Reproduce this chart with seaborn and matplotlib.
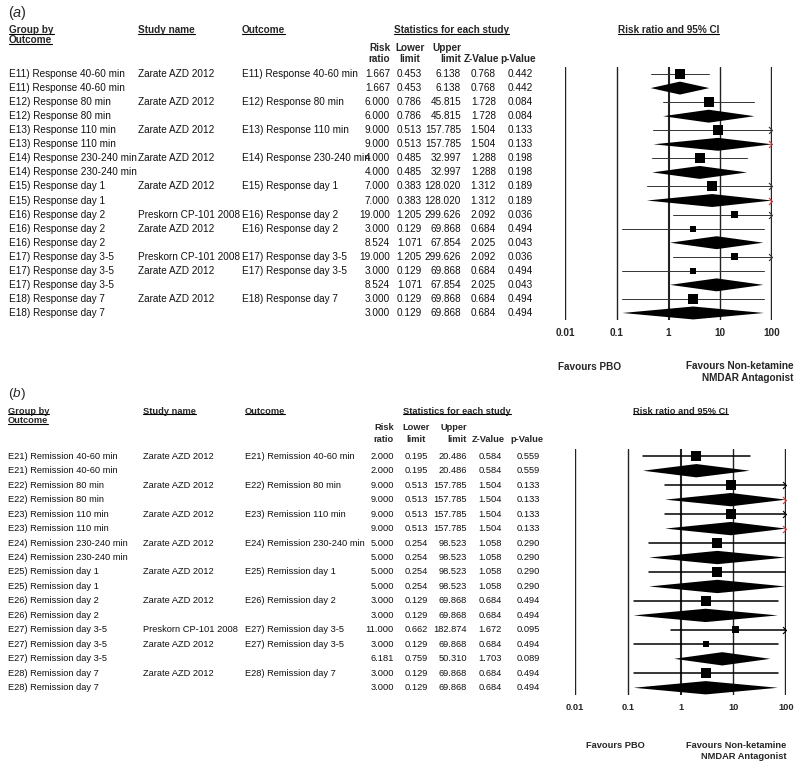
import numpy as np
import matplotlib
matplotlib.use("Agg")
import matplotlib.pyplot as plt
import matplotlib.transforms as mtransforms
from matplotlib.path import Path
import seaborn as sns

# ---- data: panel (a) response ----
a_group = ["E11) Response 40-60 min", "E11) Response 40-60 min",
           "E12) Response 80 min", "E12) Response 80 min",
           "E13) Response 110 min", "E13) Response 110 min",
           "E14) Response 230-240 min", "E14) Response 230-240 min",
           "E15) Response day 1", "E15) Response day 1",
           "E16) Response day 2", "E16) Response day 2", "E16) Response day 2",
           "E17) Response day 3-5", "E17) Response day 3-5", "E17) Response day 3-5",
           "E18) Response day 7", "E18) Response day 7"]
a_study = ["Zarate AZD 2012", "", "Zarate AZD 2012", "", "Zarate AZD 2012", "",
           "Zarate AZD 2012", "", "Zarate AZD 2012", "",
           "Preskorn CP-101 2008", "Zarate AZD 2012", "",
           "Preskorn CP-101 2008", "Zarate AZD 2012", "",
           "Zarate AZD 2012", ""]
a_outcome = ["E11) Response 40-60 min", "", "E12) Response 80 min", "",
             "E13) Response 110 min", "", "E14) Response 230-240 min", "",
             "E15) Response day 1", "",
             "E16) Response day 2", "E16) Response day 2", "",
             "E17) Response day 3-5", "E17) Response day 3-5", "",
             "E18) Response day 7", ""]
a_rr = [1.667, 1.667, 6.000, 6.000, 9.000, 9.000, 4.000, 4.000, 7.000, 7.000,
        19.000, 3.000, 8.524, 19.000, 3.000, 8.524, 3.000, 3.000]
a_lo = [0.453, 0.453, 0.786, 0.786, 0.513, 0.513, 0.485, 0.485, 0.383, 0.383,
        1.205, 0.129, 1.071, 1.205, 0.129, 1.071, 0.129, 0.129]
a_hi = [6.138, 6.138, 45.815, 45.815, 157.785, 157.785, 32.997, 32.997, 128.020, 128.020,
        299.626, 69.868, 67.854, 299.626, 69.868, 67.854, 69.868, 69.868]
a_z = [0.768, 0.768, 1.728, 1.728, 1.504, 1.504, 1.288, 1.288, 1.312, 1.312,
       2.092, 0.684, 2.025, 2.092, 0.684, 2.025, 0.684, 0.684]
a_p = [0.442, 0.442, 0.084, 0.084, 0.133, 0.133, 0.198, 0.198, 0.189, 0.189,
       0.036, 0.494, 0.043, 0.036, 0.494, 0.043, 0.494, 0.494]

# ---- data: panel (b) remission ----
b_group = ["E21) Remission 40-60 min", "E21) Remission 40-60 min",
           "E22) Remission 80 min", "E22) Remission 80 min",
           "E23) Remission 110 min", "E23) Remission 110 min",
           "E24) Remission 230-240 min", "E24) Remission 230-240 min",
           "E25) Remission day 1", "E25) Remission day 1",
           "E26) Remission day 2", "E26) Remission day 2",
           "E27) Remission day 3-5", "E27) Remission day 3-5", "E27) Remission day 3-5",
           "E28) Remission day 7", "E28) Remission day 7"]
b_study = ["Zarate AZD 2012", "", "Zarate AZD 2012", "", "Zarate AZD 2012", "",
           "Zarate AZD 2012", "", "Zarate AZD 2012", "", "Zarate AZD 2012", "",
           "Preskorn CP-101 2008", "Zarate AZD 2012", "",
           "Zarate AZD 2012", ""]
b_outcome = ["E21) Remission 40-60 min", "", "E22) Remission 80 min", "",
             "E23) Remission 110 min", "", "E24) Remission 230-240 min", "",
             "E25) Remission day 1", "", "E26) Remission day 2", "",
             "E27) Remission day 3-5", "E27) Remission day 3-5", "",
             "E28) Remission day 7", ""]
b_rr = [2.000, 2.000, 9.000, 9.000, 9.000, 9.000, 5.000, 5.000, 5.000, 5.000,
        3.000, 3.000, 11.000, 3.000, 6.181, 3.000, 3.000]
b_lo = [0.195, 0.195, 0.513, 0.513, 0.513, 0.513, 0.254, 0.254, 0.254, 0.254,
        0.129, 0.129, 0.662, 0.129, 0.759, 0.129, 0.129]
b_hi = [20.486, 20.486, 157.785, 157.785, 157.785, 157.785, 98.523, 98.523, 98.523, 98.523,
        69.868, 69.868, 182.874, 69.868, 50.310, 69.868, 69.868]
b_z = [0.584, 0.584, 1.504, 1.504, 1.504, 1.504, 1.058, 1.058, 1.058, 1.058,
       0.684, 0.684, 1.672, 0.684, 1.703, 0.684, 0.684]
b_p = [0.559, 0.559, 0.133, 0.133, 0.133, 0.133, 0.290, 0.290, 0.290, 0.290,
       0.494, 0.494, 0.095, 0.494, 0.089, 0.494, 0.494]

ticks = [0.01, 0.1, 1, 10, 100]
tick_labels = ["0.01", "0.1", "1", "10", "100"]

sns.set_theme(style="white")
plt.rcParams["font.family"] = ["Liberation Sans", "DejaVu Sans"]
plt.rcParams["mathtext.fontset"] = "custom"
plt.rcParams["mathtext.rm"] = "Liberation Sans"
plt.rcParams["mathtext.it"] = "Liberation Sans:italic"

W, H = 800, 771
fig = plt.figure(figsize=(W / 100, H / 100), dpi=100)

underlined = []


def fx(px):
    return px / W


def fy(py):
    return 1 - py / H


def draw_panel(letter, top, grid, cols, hdr, foot, data, ci_lw, ci_col, fs):
    group, study, outcome, rr, lo, hi, z, p = data
    n = len(rr)
    x0, x1, y0, y1 = grid
    ax = fig.add_axes([fx(x0), fy(y1), fx(x1) - fx(x0), (y1 - y0) / H])
    ax.set_xscale("log")
    ax.set_xlim(0.01, 100)
    ax.set_ylim(n - 0.5, -0.5)
    sns.despine(ax=ax, left=True, bottom=True)
    ax.set_yticks([])
    ax.set_xticks([])
    for t, w in zip(ticks, [1.0, 1.0, 1.5, 1.0, 1.7]):
        ax.axvline(t, color="#222222", lw=w, zorder=1)

    rr = np.array(rr)
    lo = np.array(lo)
    hi = np.array(hi)
    rows = np.arange(n)
    is_study = np.array([s != "" for s in study])

    # square size from relative inverse-variance weight within the group
    se = (np.log(hi) - np.log(lo)) / 3.92
    wt = 1 / se ** 2
    keys = [g.split(")")[0] for g in group]
    rel = np.ones(n)
    for k in set(keys):
        idx = [i for i in range(n) if keys[i] == k and is_study[i]]
        tot = wt[idx].sum()
        for i in idx:
            rel[i] = wt[i] / tot
    side_px = 10.0 * rel ** 0.6
    sizes = (side_px * 0.72) ** 2

    chevron = Path([(-1.0, 1.0), (0.0, 0.0), (-1.0, -1.0)])
    for i in rows:
        top_x = min(hi[i], 100)
        if is_study[i]:
            ax.plot([lo[i], top_x], [i, i], color=ci_col, lw=ci_lw, zorder=2)
            if hi[i] > 100:
                ax.plot([100], [i], marker=chevron, ms=5, mfc="none", mec=ci_col,
                        mew=0.8, clip_on=False, zorder=3)
        else:
            h = 0.46
            ax.fill([lo[i], rr[i], top_x, rr[i]], [i, i - h, i, i + h],
                    color="black", lw=0, zorder=3)
            if hi[i] > 100:
                ax.plot([100], [i], marker=chevron, ms=5, mfc="none", mec="#e03030",
                        mew=0.8, clip_on=False, zorder=4)
    sns.scatterplot(x=rr[is_study], y=rows[is_study], marker="s", s=sizes[is_study],
                    color="black", linewidth=0, ax=ax, zorder=5, legend=False)
    ax.set_xlabel("")
    ax.set_ylabel("")

    # row texts aligned with data rows
    tr = mtransforms.blended_transform_factory(fig.transFigure, ax.transData)
    cg, cs, co, crr, clo, chi, cz, cp = cols
    for i in rows:
        kw = dict(transform=tr, fontsize=fs, va="center", color="#111111")
        fig.text(fx(cg), i, group[i], ha="left", **kw)
        if study[i]:
            fig.text(fx(cs), i, study[i], ha="left", **kw)
            fig.text(fx(co), i, outcome[i], ha="left", **kw)
        fig.text(fx(crr), i, "%.3f" % rr[i], ha="right", **kw)
        fig.text(fx(clo), i, "%.3f" % lo[i], ha="right", **kw)
        fig.text(fx(chi), i, "%.3f" % hi[i], ha="right", **kw)
        fig.text(fx(cz), i, "%.3f" % z[i], ha="right", **kw)
        fig.text(fx(cp), i, "%.3f" % p[i], ha="right", **kw)

    # headers
    fig.text(fx(8), fy(top), r"($\mathit{%s}$)" % letter, fontsize=fs * 1.45,
             ha="left", va="center")
    h1, h2, h3, h4 = hdr
    bold = dict(fontsize=fs, fontweight="bold", va="center")
    underlined.append(fig.text(fx(cg), fy(h1), "Group by", ha="left", **bold))
    underlined.append(fig.text(fx(cg), fy(h1 + 10), "Outcome", ha="left", **bold))
    underlined.append(fig.text(fx(cs), fy(h1), "Study name", ha="left", **bold))
    underlined.append(fig.text(fx(co), fy(h1), "Outcome", ha="left", **bold))
    underlined.append(fig.text(fx((crr + cp) / 2 - 10), fy(h1), "Statistics for each study",
                               ha="center", **bold))
    underlined.append(fig.text(fx((x0 + x1) / 2), fy(h1), "Risk ratio and 95% CI",
                               ha="center", **bold))
    fig.text(fx(crr), fy(h2), "Risk", ha="right", **bold)
    fig.text(fx(crr), fy(h2 + 11), "ratio", ha="right", **bold)
    fig.text(fx(clo - 12), fy(h2), "Lower", ha="center", **bold)
    fig.text(fx(clo - 12), fy(h2 + 11), "limit", ha="center", **bold)
    fig.text(fx(chi), fy(h2), "Upper", ha="right", **bold)
    fig.text(fx(chi), fy(h2 + 11), "limit", ha="right", **bold)
    fig.text(fx(cz + 3), fy(h2 + 11), "Z-Value", ha="right", **bold)
    fig.text(fx(cp + 3), fy(h2 + 11), "p-Value", ha="right", **bold)

    # tick labels and favours labels
    for t, lab in zip(ticks, tick_labels):
        xf = ax.transAxes.inverted().transform(ax.transData.transform((t, 0)))[0]
        fig.text(fx(x0) + xf * (x1 - x0) / W, fy(h3), lab, ha="center", **bold)
    f1, f2 = foot
    fig.text(fx(f1), fy(h4), "Favours PBO", ha="center", **bold)
    fig.text(fx(f2), fy(h4 + 5), "Favours Non-ketamine\nNMDAR Antagonist", ha="center",
             multialignment="right", linespacing=1.15, **bold)
    return ax


data_a = (a_group, a_study, a_outcome, a_rr, a_lo, a_hi, a_z, a_p)
data_b = (b_group, b_study, b_outcome, b_rr, b_lo, b_hi, b_z, b_p)

draw_panel("a", 13, (565, 772, 67, 320), (9, 138, 242, 390, 422, 461, 496, 533),
           (30, 48, 333, 367), (590, 740), data_a, 0.7, "#333333", 7.2)
draw_panel("b", 394, (575, 786, 449, 695), (8, 143, 245, 394, 428, 467, 502, 540),
           (411, 428, 708, 746), (615, 736), data_b, 1.1, "black", 6.7)

# underline header texts, just under the baseline
fig.canvas.draw()
rend = fig.canvas.get_renderer()
for t in underlined:
    bb = t.get_window_extent(renderer=rend)
    yy = (bb.y0 + 1.2) / H
    fig.add_artist(plt.Line2D([bb.x0 / W, bb.x1 / W], [yy, yy], color="black",
                              lw=0.8, transform=fig.transFigure))

fig.savefig("out.png", dpi=100, facecolor="white")
